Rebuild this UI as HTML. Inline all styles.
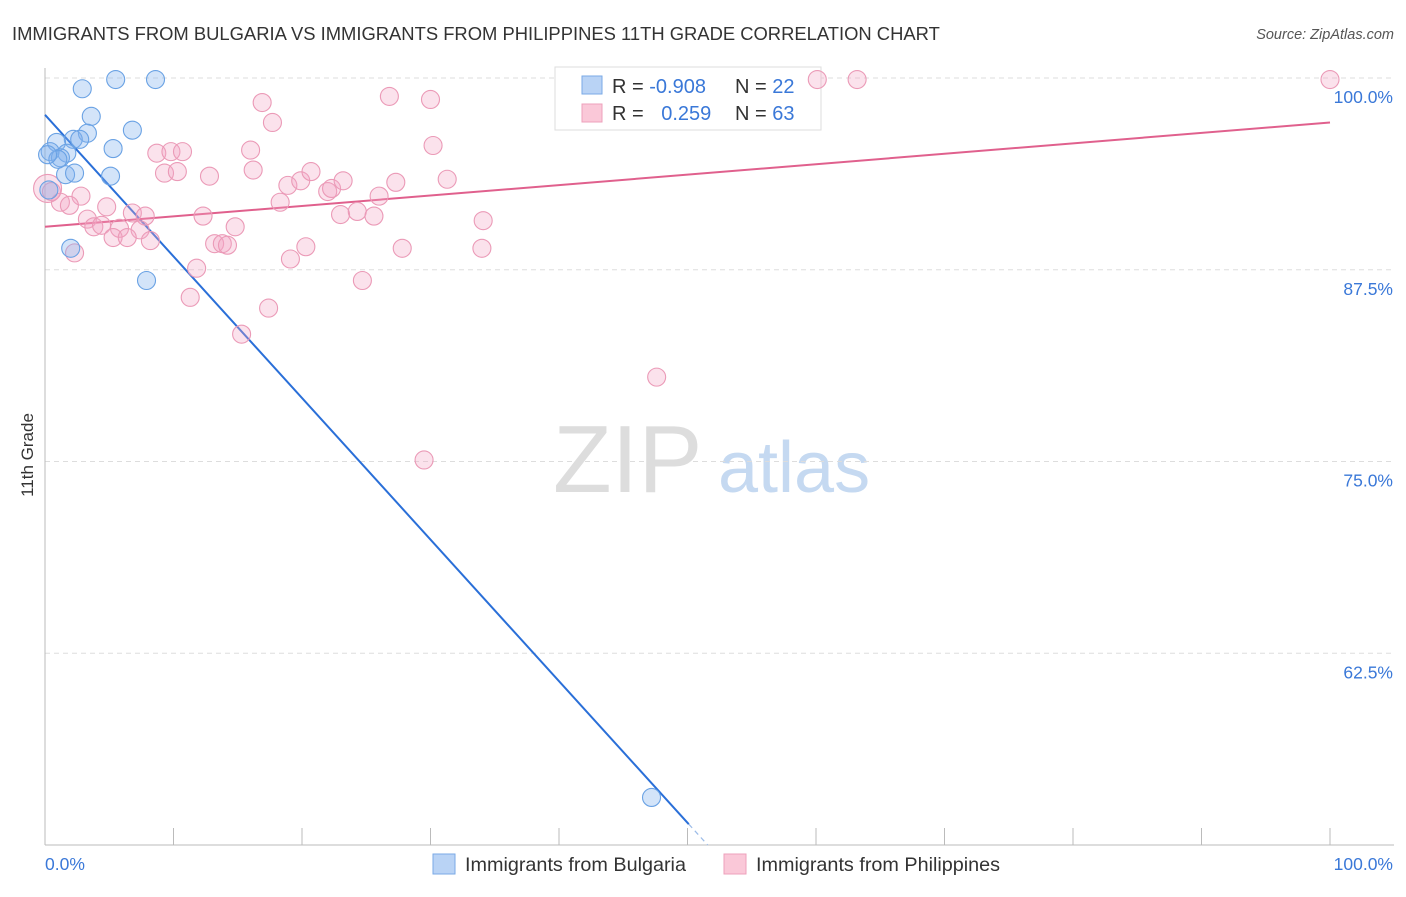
<!DOCTYPE html>
<html><head><meta charset="utf-8"><style>
body{margin:0;background:#fff;font-family:"Liberation Sans",sans-serif;}
svg text{font-family:"Liberation Sans",sans-serif;}
</style></head><body>
<svg id="chart" width="1406" height="892">
<text x="12" y="40" font-size="18.4" fill="#333">IMMIGRANTS FROM BULGARIA VS IMMIGRANTS FROM PHILIPPINES 11TH GRADE CORRELATION CHART</text>
<text x="1394" y="39" font-size="14.5" fill="#555" font-style="italic" text-anchor="end">Source: ZipAtlas.com</text>
<text x="33" y="455" font-size="17" fill="#333" transform="rotate(-90 33 455)" text-anchor="middle">11th Grade</text>
<g>
<text x="553" y="492" font-size="96" fill="#ddd" font-family="Liberation Serif,serif">ZIP</text>
<text x="718" y="492" font-size="72" fill="#c5d9f1">atlas</text>
</g>
<g id="grid"></g><g id="axes"></g>
<g>
<rect x="555" y="67" width="266" height="63" fill="#fff" stroke="#ddd"/>
<rect x="582" y="76" width="20" height="18" fill="#b9d3f5" stroke="#7aaae6"/>
<rect x="582" y="104" width="20" height="18" fill="#fac8d8" stroke="#eea0bb"/>
<text x="612" y="93" font-size="20" fill="#333">R = <tspan fill="#3a78d8">-0.908</tspan></text>
<text x="735" y="93" font-size="20" fill="#333">N = <tspan fill="#3a78d8">22</tspan></text>
<text x="612" y="120" font-size="20" fill="#333">R = <tspan fill="#3a78d8" dx="12">0.259</tspan></text>
<text x="735" y="120" font-size="20" fill="#333">N = <tspan fill="#3a78d8">63</tspan></text>
</g>
<g id="trends"></g><g id="pts"></g>
<g>
<rect x="433" y="854" width="22" height="20" fill="#b9d3f5" stroke="#7aaae6"/>
<text x="465" y="871" font-size="19.8" fill="#333">Immigrants from Bulgaria</text>
<rect x="724" y="854" width="22" height="20" fill="#fac8d8" stroke="#eea0bb"/>
<text x="756" y="871" font-size="19.8" fill="#333">Immigrants from Philippines</text>
</g>
</svg>
<script>
const yTicks=[100,87.5,75,62.5];
const yTickLabels=["100.0%","87.5%","75.0%","62.5%"];
const xTickLabels=["0.0%","100.0%"];
const bulgariaX=[5.5,8.6,2.9,3.6,6.8,3.3,2.2,0.9,2.7,5.3,0.4,1.7,1.2,1.6,2.3,5.1,0.3,2.0,7.9,47.2,1.0,0.2];
const bulgariaY=[99.9,99.9,99.3,97.5,96.6,96.4,96.0,95.8,96.0,95.4,95.2,95.1,94.8,93.7,93.8,93.6,92.7,88.9,86.8,53.1,94.7,95.0];
const philX=[16.9,17.7,26.8,30.0,30.2,16.0,16.2,8.7,9.8,10.7,9.3,10.3,12.8,18.9,19.9,20.7,22.0,22.3,23.2,27.3,31.3,26.0,18.3,23.0,24.3,25.6,34.1,34.0,27.8,20.3,19.1,12.3,14.8,13.2,13.8,14.2,11.8,24.7,11.3,17.4,15.3,0.5,2.8,1.2,1.9,4.8,3.3,3.8,4.4,5.8,6.8,7.8,7.4,5.3,6.4,8.2,2.3,29.5,47.6,60.1,63.2,100,0.2];
const philY=[98.4,97.1,98.8,98.6,95.6,95.3,94.0,95.1,95.2,95.2,93.8,93.9,93.6,93.0,93.3,93.9,92.6,92.8,93.3,93.2,93.4,92.3,91.9,91.1,91.3,91.0,90.7,88.9,88.9,89.0,88.2,91.0,90.3,89.2,89.2,89.1,87.6,86.8,85.7,85.0,83.3,92.6,92.3,91.9,91.7,91.6,90.8,90.3,90.4,90.2,91.2,91.0,90.1,89.6,89.6,89.4,88.6,75.1,80.5,99.9,99.9,99.9,92.8];
const bulgariaTrend=[97.6,-0.923];
const bulgariaSolidEnd=[50.1];
const philTrend=[90.3,0.068];
const NS="http://www.w3.org/2000/svg";
const X0=45,X1=1330,Yt=78,Yb=845;
const sx=v=>X0+(X1-X0)*v/100;
const sy=v=>Yt+(100-v)/50*(Yb-Yt);
function mk(tag,attrs,parent){const e=document.createElementNS(NS,tag);for(const k in attrs)e.setAttribute(k,attrs[k]);document.getElementById(parent).appendChild(e);return e;}
yTicks.forEach((t,i)=>{
 const l=mk('line',{x1:X0,x2:1394,y1:sy(t),y2:sy(t),stroke:'#ddd','stroke-dasharray':'5,4'},'grid');
 
 
 const tx=mk('text',{x:1393,y:sy(t)+25,'font-size':17.5,fill:'#3a78d8','text-anchor':'end'},'grid');
 tx.textContent=yTickLabels[i];
 
 
});
const ax=mk('line',{x1:X0,x2:X0,y1:68,y2:Yb,stroke:'#bbb'},'axes');


const bx=mk('line',{x1:X0,x2:1394,y1:Yb,y2:Yb,stroke:'#bbb'},'axes');


for(let i=0;i<=10;i++){const t=mk('line',{x1:sx(i*10),x2:sx(i*10),y1:828,y2:Yb,stroke:'#bbb'},'axes');
 
 }
const xl0=mk('text',{x:X0,y:870,'font-size':17.5,fill:'#3a78d8'},'axes');xl0.textContent=xTickLabels[0];


const xl1=mk('text',{x:1393,y:870,'font-size':17.5,fill:'#3a78d8','text-anchor':'end'},'axes');xl1.textContent=xTickLabels[1];


const bs=bulgariaSolidEnd[0];
const bEnd=(50-bulgariaTrend[0])/bulgariaTrend[1];
const bl=mk('line',{x1:sx(0),y1:sy(bulgariaTrend[0]),x2:sx(bs),y2:sy(bulgariaTrend[0]+bulgariaTrend[1]*bs),stroke:'#2a6fd8','stroke-width':2},'trends');


const bd=mk('line',{x1:sx(bs),y1:sy(bulgariaTrend[0]+bulgariaTrend[1]*bs),x2:sx(bEnd),y2:sy(50),stroke:'#9bbbe8','stroke-width':1.2,'stroke-dasharray':'5,4'},'trends');


const pl=mk('line',{x1:sx(0),y1:sy(philTrend[0]),x2:sx(100),y2:sy(philTrend[0]+philTrend[1]*100),stroke:'#e0608d','stroke-width':2},'trends');


philX.forEach((x,i)=>{const big=i===philX.length-1;
 const c=mk('circle',{cx:sx(x),cy:sy(philY[i]),r:big?14:9,fill:'rgba(244,165,195,0.32)',stroke:'#eb9ab7','stroke-width':1.1},'pts');
 
 });
bulgariaX.forEach((x,i)=>{
 const c=mk('circle',{cx:sx(x),cy:sy(bulgariaY[i]),r:9,fill:'rgba(130,178,238,0.35)',stroke:'#6aa2e4','stroke-width':1.1},'pts');
 
 });
</script>
</body></html>
